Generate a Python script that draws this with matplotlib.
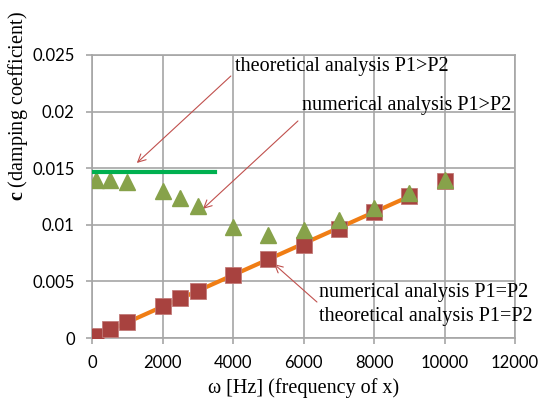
import matplotlib
matplotlib.use('Agg')
import matplotlib.pyplot as plt

# numerical analysis P1=P2 (squares)
freq_eq = [100, 500, 1000, 2000, 2500, 3000, 4000, 5000, 6000, 7000, 8000, 9000, 10000]
damp_eq_num = [0.0002, 0.00077, 0.00144, 0.00282, 0.0035, 0.00417, 0.00556,
               0.00697, 0.00826, 0.00967, 0.01114, 0.01252, 0.01387]

# theoretical analysis P1=P2 (orange line)
freq_eq_th = [100, 500, 1000, 2000, 2500, 3000, 4000, 5000, 6000, 7000, 8000, 9000]
damp_eq_th = [0.00014, 0.0007, 0.00139, 0.00278, 0.00348, 0.00417, 0.00556,
              0.00695, 0.00834, 0.00973, 0.01112, 0.01251]

# numerical analysis P1>P2 (triangles)
freq_gt = [100, 500, 1000, 2000, 2500, 3000, 4000, 5000, 6000, 7000, 8000, 9000, 10000]
damp_gt_num = [0.0140, 0.0140, 0.0138, 0.0130, 0.0124, 0.01165, 0.0098,
               0.0091, 0.0095, 0.0104, 0.01145, 0.0128, 0.0140]

# theoretical analysis P1>P2 (green line)
freq_gt_th = [0, 3500]
damp_gt_th = [0.01465, 0.01465]

serif = 'Liberation Serif'
tick_font = 'Lato'
grid_col = '#a6a6a6'
arrow_col = '#c0504d'

plt.rcParams['mathtext.fontset'] = 'custom'
plt.rcParams['mathtext.bf'] = 'Liberation Serif:bold'
plt.rcParams['mathtext.rm'] = 'Liberation Serif'

fig = plt.figure(figsize=(5.45, 4.01), dpi=100)
ax = fig.add_axes([0.169, 0.157, 0.776, 0.706])

ax.plot(freq_eq_th, damp_eq_th, color='#f07d14', linewidth=3, zorder=3)
ax.plot(freq_eq, damp_eq_num, linestyle='none', marker='s', markersize=11,
        color='#a8423f', markeredgecolor='#c27a78', markeredgewidth=0.6, zorder=4)
ax.plot(freq_gt, damp_gt_num, linestyle='none', marker='^', markersize=11,
        color='#87a24a', markeredgecolor='#87a24a', zorder=5)
ax.plot(freq_gt_th, damp_gt_th, color='#00b050', linewidth=3, zorder=6)

ax.set_xlim(0, 12000)
ax.set_ylim(0, 0.025)
ax.set_xticks(range(0, 12001, 2000))
ax.set_yticks([0, 0.005, 0.01, 0.015, 0.02, 0.025])
ax.set_yticklabels(['0', '0.005', '0.01', '0.015', '0.02', '0.025'])
ax.grid(True, color=grid_col, linewidth=1.2)
ax.set_axisbelow(True)
for s in ax.spines.values():
    s.set_color(grid_col)
    s.set_linewidth(1.2)
ax.tick_params(colors=grid_col, length=4, width=1.2, labelcolor='black', pad=8.5)
for lab in ax.get_xticklabels() + ax.get_yticklabels():
    lab.set_fontfamily(tick_font)
    lab.set_fontsize(12)

ax.set_xlabel('ω [Hz] (frequency of x)', fontfamily=serif, fontsize=14.5, labelpad=5)
ax.set_ylabel(r'$\mathbf{c}$ (damping coefficient)', fontfamily=serif, fontsize=14.5)
ax.yaxis.set_label_coords(-0.148, 0.82)

text_kw = dict(fontfamily=serif, fontsize=14.5, va='center', ha='left')
ax.text(4050, 0.02394, 'theoretical analysis P1>P2', **text_kw)
ax.text(5950, 0.0205, 'numerical analysis P1>P2', **text_kw)
ax.text(6434, 0.00398, 'numerical analysis P1=P2', **text_kw)
ax.text(6434, 0.00194, 'theoretical analysis P1=P2', **text_kw)

arrow_kw = dict(arrowstyle='->', color=arrow_col, lw=0.8, mutation_scale=14,
                shrinkA=0, shrinkB=0)
ax.annotate('', xy=(1269, 0.01546), xytext=(3937, 0.02314), arrowprops=arrow_kw)
ax.annotate('', xy=(3143, 0.0114), xytext=(5840, 0.01917), arrowprops=arrow_kw)
ax.annotate('', xy=(5160, 0.00654), xytext=(6380, 0.00318), arrowprops=arrow_kw)

fig.savefig('out.png', dpi=100)
